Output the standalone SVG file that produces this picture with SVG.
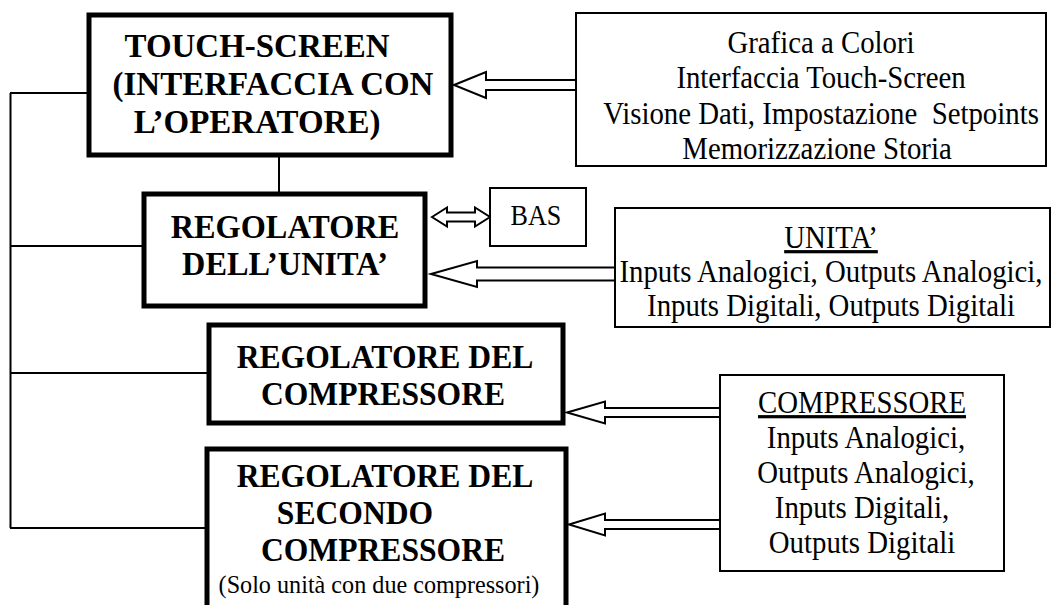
<svg xmlns="http://www.w3.org/2000/svg" width="1058" height="605" viewBox="0 0 1058 605">
<style>
.bold{fill:none;stroke:#000;stroke-width:5}
.thin{fill:#fff;stroke:#000;stroke-width:2}
.conn{fill:none;stroke:#000;stroke-width:2}
.arr{fill:#fff;stroke:#000;stroke-width:2;stroke-linejoin:miter}
.tb{font-family:"Liberation Serif","Times New Roman",serif;font-weight:bold;font-size:34px;text-anchor:middle;fill:#000}
.tr{font-family:"Liberation Serif","Times New Roman",serif;font-size:32px;text-anchor:middle;fill:#000;white-space:pre}
</style>
<rect width="1058" height="605" fill="#fff"/>
<g id="connectors">
<path class="conn" d="M10.5 93 V528 M10 93 H89 M10 246 H144 M10 373 H209 M10 528 H207 M279 155 V194"/>
<polygon class="arr" points="454,85 486,72 486,80 576,80 576,90 486,90 486,98"/>
<polygon class="arr" points="431,274 477,261 477,267.5 615,267.5 615,280.5 477,280.5 477,287"/>
<polygon class="arr" points="432,217 447,207.5 447,212.5 475,212.5 475,207.5 490,217 475,226.5 475,221.5 447,221.5 447,226.5"/>
<polygon class="arr" points="567,412.5 605,401.5 605,408 720,408 720,417 605,417 605,423.5"/>
<polygon class="arr" points="569,524.5 605,513.5 605,520 720,520 720,529 605,529 605,535.5"/>
</g>
<g id="touch">
<rect class="bold" x="89" y="15" width="362" height="140"/>
<text class="tb" transform="translate(257 57) scale(.97 1)">TOUCH-SCREEN</text>
<text class="tb" transform="translate(273 95) scale(.97 1)">(INTERFACCIA CON</text>
<text class="tb" transform="translate(257 133) scale(.97 1)">L’OPERATORE)</text>
</g>
<g id="regolatore-unita">
<rect class="bold" x="144" y="194" width="281" height="112"/>
<text class="tb" transform="translate(285 238) scale(.95 1)">REGOLATORE</text>
<text class="tb" transform="translate(285 275) scale(.95 1)">DELL’UNITA’</text>
</g>
<g id="bas">
<rect class="thin" x="490" y="188" width="96" height="58"/>
<text class="tr" transform="translate(536 225) scale(.9 1)" style="font-size:29px">BAS</text>
</g>
<g id="regolatore-compressore">
<rect class="bold" x="209" y="325" width="354" height="98"/>
<text class="tb" transform="translate(385 368) scale(.93 1)">REGOLATORE DEL</text>
<text class="tb" transform="translate(383 405) scale(.93 1)">COMPRESSORE</text>
</g>
<g id="regolatore-secondo">
<path class="bold" d="M207 610 V449 H566 V610"/>
<text class="tb" transform="translate(385 487) scale(.93 1)">REGOLATORE DEL</text>
<text class="tb" transform="translate(355 524) scale(.93 1)">SECONDO</text>
<text class="tb" transform="translate(383 561) scale(.93 1)">COMPRESSORE</text>
<text class="tr" transform="translate(379 593) scale(.93 1)" style="font-size:26px">(Solo unità con due compressori)</text>
</g>
<g id="info-touch">
<rect class="thin" x="576" y="13" width="470" height="153"/>
<text class="tr" transform="translate(821 53) scale(.9 1)">Grafica a Colori</text>
<text class="tr" transform="translate(821 88) scale(.9 1)">Interfaccia Touch-Screen</text>
<text class="tr" transform="translate(821 124) scale(.9 1)">Visione Dati, Impostazione  Setpoints</text>
<text class="tr" transform="translate(817 159) scale(.9 1)">Memorizzazione Storia</text>
</g>
<g id="info-unita">
<rect class="thin" x="615" y="208" width="435" height="119"/>
<text class="tr" transform="translate(831 248) scale(.9 1)" text-decoration="underline">UNITA’</text>
<text class="tr" transform="translate(831 282) scale(.9 1)">Inputs Analogici, Outputs Analogici,</text>
<text class="tr" transform="translate(831 316) scale(.9 1)">Inputs Digitali, Outputs Digitali</text>
</g>
<g id="info-compressore">
<rect class="thin" x="720" y="375" width="284" height="196"/>
<text class="tr" transform="translate(862 413) scale(.9 1)" text-decoration="underline">COMPRESSORE</text>
<text class="tr" transform="translate(866 448) scale(.9 1)">Inputs Analogici,</text>
<text class="tr" transform="translate(866 483) scale(.9 1)">Outputs Analogici,</text>
<text class="tr" transform="translate(862 518) scale(.9 1)">Inputs Digitali,</text>
<text class="tr" transform="translate(862 553) scale(.9 1)">Outputs Digitali</text>
</g>
</svg>
